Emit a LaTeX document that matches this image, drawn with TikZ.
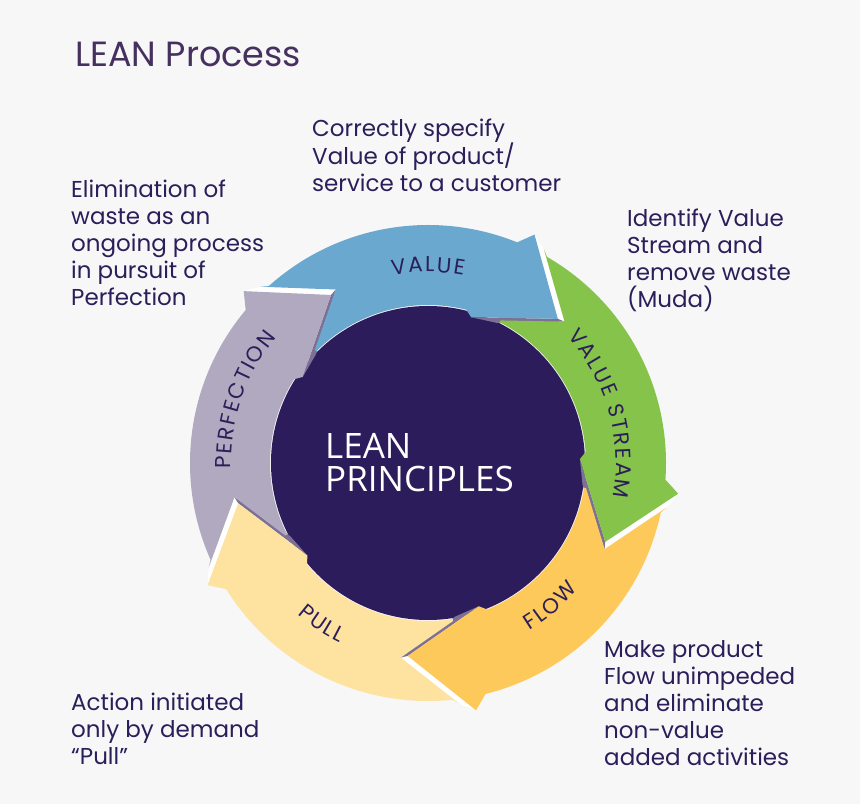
\documentclass[tikz,border=0pt]{standalone}
\usepackage{fontspec}
\setmainfont{Poppins}
\newfontfamily\corefont{Open Sans}
\usetikzlibrary{decorations.text}

\definecolor{pagebg}{HTML}{F7F7F7}
\definecolor{ink}{HTML}{2B1E5A}
\definecolor{titleink}{HTML}{45305F}
\definecolor{corepurple}{HTML}{2C1C5B}
\definecolor{valueblue}{HTML}{6AA8D0}
\definecolor{streamgreen}{HTML}{86C34A}
\definecolor{flowgold}{HTML}{FEC95B}
\definecolor{pullcream}{HTML}{FEE2A0}
\definecolor{perfgrey}{HTML}{B1A9BF}
\definecolor{headshade}{HTML}{7C7096}

\newcommand{\labelfont}{\fontsize{21.5}{21.5}\selectfont}

\begin{document}
\begin{tikzpicture}[x=1pt,y=1pt,
  desc/.style={anchor=base west,align=left,inner sep=0pt,text=ink,font=\fontsize{23}{27}\selectfont},
  arclabel/.style={decorate,font=\labelfont,decoration={text effects along path,text={#1},text align=center,
    text effects/.cd,text along path,characters={text=ink,inner sep=0pt,font=\labelfont},character widths={inner xsep=1pt,font=\labelfont}}}]
  \fill[pagebg] (0,0) rectangle (860,804);
  \node[anchor=base west,inner sep=0pt,text=titleink,font=\fontsize{35}{40}\selectfont] (title) at (75,737) {LEAN Process};

  \node[circle,fill=corepurple,minimum size=314pt,inner sep=0pt] (core) at (428,341) {};

  \begin{scope}[shift={(core.center)}]
    % gaps and shadows behind the heads
    \foreach \t in {48,-24,-96,-168,120}{
      \fill[white] ({\t-2}:196.5pt) -- ({\t+13.5}:243pt) -- ({\t+17}:252pt) -- (\t:194pt) -- cycle;
      \fill[headshade] ({\t-2}:196.5pt) -- (\t:194pt) -- ({\t+25.5}:152pt) -- ({\t+16}:156pt) -- cycle;
    }
    % the five arrows
    \foreach \t/\col in {48/valueblue,-24/streamgreen,-96/flowgold,-168/pullcream,120/perfgrey}{
      \pgfmathsetmacro\p{\t+72}
      \fill[\col] ({\p-2}:196.5pt) -- ({\p+13.5}:243pt) -- ({\p+12}:238pt)
        arc[start angle=\p+12,end angle=\t+20,radius=238pt]
        -- ({\t+17}:252pt) -- (\t:194pt) -- ({\t+25.5}:152pt) -- ({\t+28}:158pt)
        arc[start angle=\t+28,end angle=\p+15,radius=158pt]
        -- ({\p+15}:160pt) -- cycle;
    }
    % labels
    \path[arclabel={VALUE}] (125:191pt) arc[start angle=125,end angle=55,radius=191pt];
    \path[arclabel={VALUE  STREAM}] (52:188pt) arc[start angle=52,end angle=-20,radius=188pt];
    \path[arclabel={FLOW}] (-80:196pt) arc[start angle=-80,end angle=-19,radius=196pt];
    \path[arclabel={PULL}] (-155:200pt) arc[start angle=-155,end angle=-92,radius=200pt];
    \path[arclabel={PERFECTION}] (196:197pt) arc[start angle=196,end angle=126,radius=197pt];
  \end{scope}

  \node[anchor=base west,align=left,inner sep=0pt,text=white,font=\corefont\fontsize{35}{33}\selectfont] (centre) at (325,312) {LEAN\\PRINCIPLES};

  \node[desc] (value) at (312,612) {Correctly specify\\Value of product/\\service to a customer};
  \node[desc] (perfection) at (71,498) {Elimination of\\waste as an\\ongoing process\\in pursuit of\\Perfection};
  \node[desc] (stream) at (627,496) {Identify Value\\Stream and\\remove waste\\(Muda)};
  \node[desc] (flow) at (604,39) {Make product\\Flow unimpeded\\and eliminate\\non-value\\added activities};
  \node[desc] (pull) at (71,40) {Action initiated\\only by demand\\“Pull”};
\end{tikzpicture}
\end{document}
